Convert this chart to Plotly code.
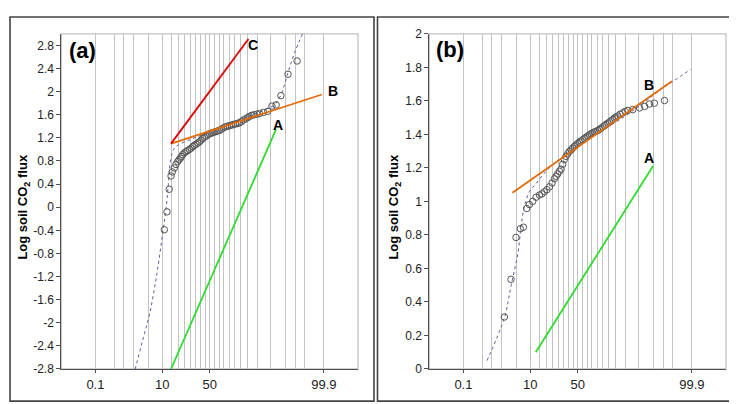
import plotly.graph_objects as go
from statistics import NormalDist

nd = NormalDist()


def pz(plist):
    # cumulative percent -> normal score (probability paper)
    return [nd.inv_cdf(p / 100.0) for p in plist]


## PROBABILITY AXIS
grid_p = [0.1, 0.5, 1, 2, 5, 10, 15, 20, 25, 30, 35, 40, 45, 50, 55, 60, 65,
          70, 75, 80, 85, 90, 95, 98, 99, 99.5, 99.9]
xlab_p = [0.1, 10, 50, 99.9]
xlab_txt = ['0.1', '10', '50', '99.9']
x_lo, x_hi = 0.003, 99.997

## PANEL (a)
a_pct = [11.0, 12.4, 13.7, 14.8, 15.6, 17.0, 18.1, 19.4, 20.4, 21.5, 22.4, 23.3,
         24.7, 26.1, 27.6, 29.2, 30.8, 32.4, 34.0, 35.6, 37.3, 39.1, 40.8, 42.6,
         44.4, 46.2, 48.0, 49.8, 51.6, 53.4, 55.2, 57.0, 58.8, 60.5, 62.5, 64.5,
         66.5, 68.5, 70.4, 72.2, 74.0, 75.8, 77.5, 79.0, 80.5, 82.0, 83.5, 84.8,
         85.9, 87.3, 88.6, 89.9, 91.1, 92.7, 94.2, 95.4, 96.4, 97.3, 98.3, 99.1]
a_flux = [-0.39, -0.08, 0.31, 0.54, 0.61, 0.68, 0.74, 0.79, 0.82, 0.85, 0.88, 0.91,
          0.94, 0.96, 0.98, 1.00, 1.02, 1.05, 1.07, 1.09, 1.11, 1.13, 1.16, 1.19,
          1.21, 1.23, 1.25, 1.27, 1.28, 1.29, 1.30, 1.31, 1.32, 1.33, 1.35, 1.37,
          1.39, 1.40, 1.41, 1.42, 1.43, 1.44, 1.45, 1.46, 1.48, 1.51, 1.53, 1.55,
          1.57, 1.59, 1.60, 1.61, 1.62, 1.64, 1.66, 1.75, 1.77, 1.93, 2.30, 2.53]
a_fit_pct = [1.8, 2.2, 3.5, 5.2, 7.5, 10.2, 12.0, 13.2, 14.5, 16.5, 20, 30, 40,
             50, 60, 70, 80, 88, 93, 96, 97.3, 98.3, 98.9, 99.4]
a_fit = [-3.0, -2.8, -2.3, -1.85, -1.2, -0.45, 0.0, 0.4, 0.8, 1.0, 1.08, 1.17, 1.24,
         1.31, 1.38, 1.45, 1.52, 1.6, 1.68, 1.77, 1.94, 2.33, 2.66, 3.0]
a_lines = {
    'A': ([14.8, 96.4], [-2.8, 1.35], '#2edc2e', (96.8, 1.43)),
    'B': ([14.9, 99.88], [1.10, 1.95], '#e36c0a', (99.957, 2.01)),
    'C': ([14.8, 85.3], [1.10, 2.91], '#e00000', (87.8, 2.81)),
}
a_yticks = [-2.8, -2.4, -2.0, -1.6, -1.2, -0.8, -0.4, 0, 0.4, 0.8, 1.2, 1.6, 2.0, 2.4, 2.8]

## PANEL (b)
b_pct = [2.37, 3.57, 4.77, 6.07, 7.12, 8.41, 9.6, 11.2, 13.0, 15.1, 16.7, 18.4,
         20.3, 22.3, 24.4, 26.5, 28.0, 29.5, 31.1, 32.7, 34.3, 36.0, 37.7, 39.4,
         41.1, 42.9, 44.6, 46.4, 48.2, 50.1, 51.9, 53.7, 55.5, 57.3, 59.0, 60.7,
         62.5, 64.2, 65.8, 67.4, 69.0, 70.7, 72.2, 73.7, 75.2, 76.6, 78.0, 79.4,
         80.6, 81.7, 82.9, 84.0, 85.1, 86.1, 87.5, 88.9, 90.1, 91.2, 93.2, 95.3,
         96.5, 97.4, 98.1, 99.06]
b_flux = [0.31, 0.535, 0.785, 0.837, 0.846, 0.958, 0.981, 1.00, 1.025, 1.038, 1.045, 1.058,
          1.07, 1.087, 1.11, 1.135, 1.15, 1.164, 1.18, 1.192, 1.221, 1.25, 1.269, 1.285,
          1.298, 1.308, 1.318, 1.328, 1.337, 1.346, 1.354, 1.361, 1.368, 1.375, 1.383, 1.39,
          1.397, 1.404, 1.409, 1.414, 1.418, 1.423, 1.43, 1.437, 1.445, 1.452, 1.46, 1.467,
          1.474, 1.481, 1.489, 1.497, 1.504, 1.51, 1.52, 1.529, 1.537, 1.543, 1.548, 1.558,
          1.567, 1.581, 1.586, 1.602]
b_fit_pct = [0.71, 2.4, 3.6, 5.3, 6.3, 7.5, 9.7, 12.5, 20.9, 39.4, 64, 86, 95.7, 98.5, 99.89]
b_fit = [0.05, 0.31, 0.50, 0.69, 0.85, 0.97, 1.06, 1.10, 1.19, 1.29, 1.385, 1.48,
         1.577, 1.654, 1.788]
b_lines = {
    'A': ([12.84, 97.93], [0.10, 1.211], '#2edc2e', (97.24, 1.262)),
    'B': ([3.88, 99.46], [1.052, 1.717], '#e36c0a', (97.24, 1.696)),
}
b_yticks = [0, 0.2, 0.4, 0.6, 0.8, 1.0, 1.2, 1.4, 1.6, 1.8, 2.0]

W, H = 737, 404
GRID = '#c2c2c2'
AX = '#505050'
FONT = 'Arial, Liberation Sans, sans-serif'

fig = go.Figure()


def add_panel(xr, yr, pct, flux, fit_pct, fit, lines):
    fig.add_trace(go.Scatter(x=pz(fit_pct), y=fit, mode='lines', xaxis=xr, yaxis=yr,
                             line=dict(color='#5b5ba0', width=1, dash='dot', shape='spline'),
                             hoverinfo='skip'))
    fig.add_trace(go.Scatter(x=pz(pct), y=flux, mode='markers', xaxis=xr, yaxis=yr,
                             marker=dict(symbol='circle-open', size=6.5, color='#555555',
                                         line=dict(width=1))))
    for name, (lp, lv, col, (tp, tv)) in lines.items():
        fig.add_trace(go.Scatter(x=pz(lp), y=lv, mode='lines', xaxis=xr, yaxis=yr,
                                 line=dict(color=col, width=1.8)))
        fig.add_annotation(x=pz([tp])[0], y=tv, xref=xr, yref=yr, text='<b>%s</b>' % name,
                           showarrow=False, xanchor='center', yanchor='middle',
                           font=dict(size=14, color='black'))


add_panel('x', 'y', a_pct, a_flux, a_fit_pct, a_fit, a_lines)
add_panel('x2', 'y2', b_pct, b_flux, b_fit_pct, b_fit, b_lines)

xdom = {'a': [53.3 / W, 350 / W], 'b': [421.3 / W, 718 / W]}
ydom = [1 - 366.7 / H, 1 - 19.5 / H]

xcommon = dict(range=pz([x_lo, x_hi]), tickmode='array', tickvals=pz(xlab_p), ticktext=xlab_txt,
               showgrid=True, gridcolor=GRID, gridwidth=1.3, zeroline=False,
               minor=dict(tickmode='array', tickvals=pz(grid_p), showgrid=True,
                          gridcolor=GRID, gridwidth=1.3, ticks=''),
               showline=True, linecolor=AX, linewidth=1, ticks='outside', ticklen=3,
               tickcolor=AX, tickfont=dict(size=13, color='#222'))
ycommon = dict(showgrid=False, zeroline=False, showline=True, linecolor=AX, linewidth=1,
               ticks='outside', ticklen=4, tickcolor=AX, tickfont=dict(size=12, color='#222'),
               tickmode='array')

fig.update_layout(
    width=W, height=H, margin=dict(l=0, r=0, t=0, b=0),
    paper_bgcolor='white', plot_bgcolor='white', showlegend=False,
    font=dict(family=FONT, color='#222'),
    xaxis=dict(domain=xdom['a'], anchor='y', **xcommon),
    xaxis2=dict(domain=xdom['b'], anchor='y2', **xcommon),
    yaxis=dict(domain=ydom, anchor='x', range=[-2.8, 3.0], tickvals=a_yticks,
               ticktext=['{:g}'.format(v) for v in a_yticks], **ycommon),
    yaxis2=dict(domain=ydom, anchor='x2', range=[0, 2.0], tickvals=b_yticks,
                ticktext=['{:g}'.format(v) for v in b_yticks], **ycommon),
)

# plot-area borders (light) and panel frames (dark)
for xr, yr in (('x', 'y'), ('x2', 'y2')):
    fig.add_shape(type='rect', xref=xr + ' domain', yref=yr + ' domain', x0=0, x1=1, y0=0, y1=1,
                  line=dict(color=GRID, width=1.3), layer='below')
for x0, x1 in ((2, 366), (369.5, 735)):
    fig.add_shape(type='rect', xref='paper', yref='paper', x0=x0 / W, x1=x1 / W,
                  y0=1 - 400 / H, y1=1 - 2 / H, line=dict(color='#444444', width=1.6))

# panel letters and y titles
for txt, px, py in (('(a)', 74, 37), ('(b)', 441.5, 36)):
    fig.add_annotation(x=px / W, y=1 - py / H, xref='paper', yref='paper', text='<b>%s</b>' % txt,
                       showarrow=False, xanchor='center', yanchor='middle',
                       font=dict(size=22, color='black'))
for px in (15.5, 386.5):
    fig.add_annotation(x=px / W, y=1 - 199 / H, xref='paper', yref='paper', textangle=-90,
                       text='<b>Log soil CO<sub>2</sub> flux</b>', showarrow=False,
                       xanchor='center', yanchor='middle', font=dict(size=13, color='black'))

fig.write_html("out.html")
